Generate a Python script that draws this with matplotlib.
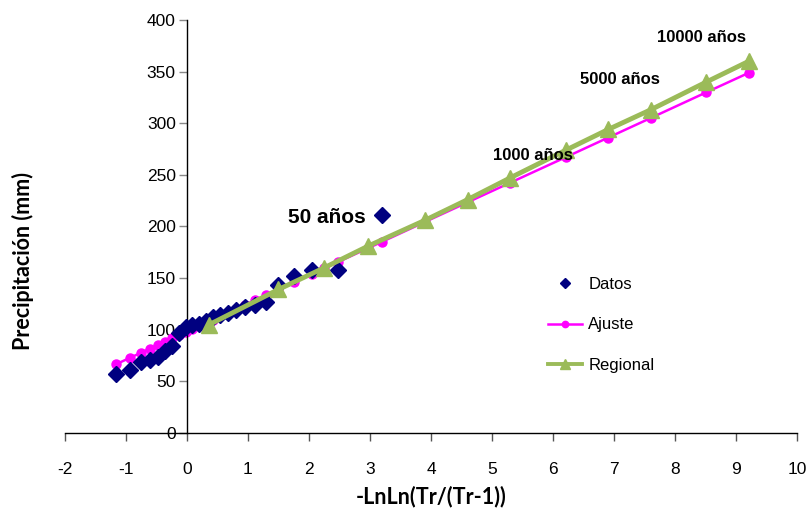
import numpy as np
import matplotlib
matplotlib.use('Agg')
import matplotlib.pyplot as plt

plt.rcParams['font.family'] = ['Liberation Sans', 'DejaVu Sans']
plt.rcParams['axes.unicode_minus'] = False

# Observed data (Gumbel reduced variate, precipitation mm)
datos_x = [-1.169, -0.927, -0.752, -0.606, -0.476, -0.356, -0.241, -0.131,
           -0.021, 0.087, 0.197, 0.309, 0.425, 0.545, 0.672, 0.807,
           0.953, 1.113, 1.293, 1.500, 1.747, 2.057, 2.484, 3.199]
datos_y = [57, 61, 69, 71, 74, 79, 84, 97,
           103, 105, 106, 108, 112, 114, 116, 119,
           122, 124, 127, 143, 152, 158, 158, 211]

# Fitted distribution (at data positions and return periods)
ajuste_x = [-1.169, -0.927, -0.752, -0.606, -0.476, -0.356, -0.241, -0.131,
            -0.021, 0.087, 0.197, 0.309, 0.367, 0.425, 0.545, 0.672, 0.807,
            0.953, 1.113, 1.293, 1.500, 1.747, 2.057, 2.250, 2.484, 2.970,
            3.199, 3.902, 4.600, 5.296, 6.214, 6.907, 7.601, 8.517, 9.210]
ajuste_y = [66.4, 73.0, 77.7, 81.7, 85.2, 88.5, 91.6, 94.6,
            97.6, 100.6, 103.6, 106.6, 108.2, 109.8, 113.0, 116.5, 120.2,
            124.1, 128.5, 133.4, 139.0, 145.8, 154.2, 159.5, 165.8, 179.0,
            185.2, 204.4, 223.4, 242.3, 267.2, 286.1, 305.0, 330.0, 348.8]

# Regional curve at return periods 2 ... 10000 years
regional_x = [0.367, 1.500, 2.250, 2.970, 3.902, 4.600, 5.296, 6.214,
              6.907, 7.601, 8.517, 9.210]
regional_y = [105, 139, 160, 181, 206, 226, 247, 274,
              294, 313, 340, 360]

labels = ['50 años', '1000 años', '5000 años', '10000 años']
label_x = [2.30, 5.67, 7.10, 8.44]
label_y = [209, 269, 342, 383]
label_size = [15, 12, 12, 12]

fig = plt.figure(figsize=(8.1, 5.16), dpi=100)
ax = fig.add_axes([0.0802, 0.1609, 0.9037, 0.8004])

ax.plot(ajuste_x, ajuste_y, color='#FF00FF', linewidth=1.8, marker='o',
        markersize=6.5, label='Ajuste', zorder=2)
ax.plot(datos_x, datos_y, linestyle='none', marker='D', color='#000080',
        markersize=8, label='Datos', zorder=3)
ax.plot(regional_x, regional_y, color='#9BBB59', linewidth=3.5, marker='^',
        markersize=11, label='Regional', zorder=4)

for t, x, y, s in zip(labels, label_x, label_y, label_size):
    ax.text(x, y, t, fontsize=s, fontweight='bold', ha='center', va='center',
            zorder=5)

ax.set_xlim(-2, 10)
ax.set_ylim(0, 400)
ax.set_xticks(np.arange(-2, 11, 1))
ax.set_yticks(np.arange(0, 401, 50))

ax.spines['left'].set_position(('data', 0))
ax.spines['bottom'].set_position(('data', 0))
ax.spines['top'].set_visible(False)
ax.spines['right'].set_visible(False)
ax.spines['left'].set_linewidth(1.0)
ax.spines['bottom'].set_linewidth(1.0)

ax.tick_params(axis='x', direction='out', length=6, width=1, color='#555555',
               pad=15, labelsize=12.5)
ax.tick_params(axis='y', direction='out', length=6, width=1, color='#888888',
               pad=2, labelsize=12.5)

fig.text(0.532, 0.037, '-LnLn(Tr/(Tr-1))', fontsize=15.5,
         fontweight='bold', family=['Lato', 'DejaVu Sans'], ha='center', va='center')
fig.text(0.028, 0.495, 'Precipitación (mm)', fontsize=15.5, fontweight='bold',
         family=['Lato', 'DejaVu Sans'], rotation=90, ha='center', va='center')

handles, labs = ax.get_legend_handles_labels()
order = [1, 0, 2]
leg = ax.legend([handles[i] for i in order], [labs[i] for i in order],
                loc='upper left', bbox_to_anchor=(0.64, 0.415), frameon=False,
                fontsize=12, handlelength=2.0, labelspacing=1.55, markerscale=0.7,
                handletextpad=0.4)
leg.get_lines()[2].set_linewidth(2.8)

plt.savefig('out.png', dpi=100)
